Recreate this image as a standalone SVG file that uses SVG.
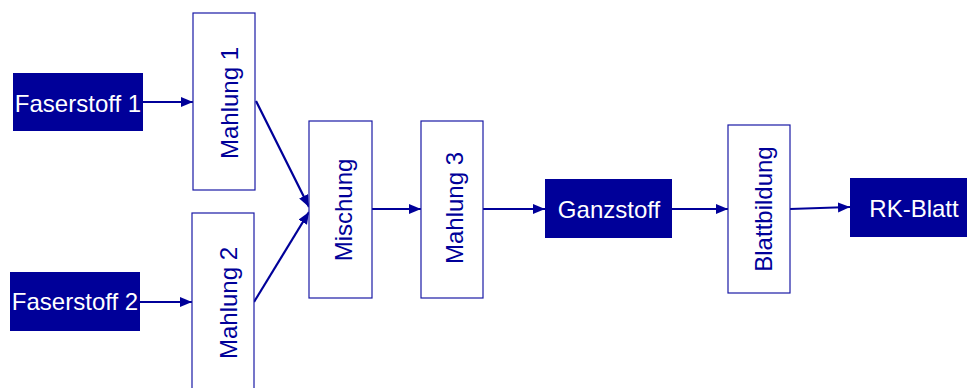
<svg xmlns="http://www.w3.org/2000/svg" width="967" height="388" viewBox="0 0 967 388">
<defs>
<marker id="ah" markerUnits="userSpaceOnUse" markerWidth="13" markerHeight="11" refX="12" refY="5" orient="auto">
<path d="M0,0 L12,5 L0,10 z" fill="#000099"/>
</marker>
<style>
.dark{fill:#000099;}
.light{fill:#ffffff;stroke:#1a1aa6;stroke-width:1.2;}
.tw{font-family:"Liberation Sans",Arial,sans-serif;font-size:24px;fill:#ffffff;text-anchor:middle;}
.tb{font-family:"Liberation Sans",Arial,sans-serif;font-size:24px;fill:#000099;text-anchor:middle;}
.con{stroke:#000099;stroke-width:2.2;fill:none;marker-end:url(#ah);}
</style>
</defs>
<rect width="967" height="388" fill="#ffffff"/>
<g id="connectors">
<line class="con" x1="143" y1="102" x2="193" y2="102"/>
<line class="con" x1="140" y1="302" x2="192" y2="302"/>
<line class="con" x1="256" y1="101" x2="309" y2="207"/>
<line class="con" x1="254" y1="302" x2="309" y2="212"/>
<line class="con" x1="372" y1="209" x2="421" y2="209"/>
<line class="con" x1="483" y1="209" x2="545" y2="209"/>
<line class="con" x1="672" y1="209" x2="728" y2="209"/>
<line class="con" x1="790" y1="209" x2="850" y2="207"/>
</g>
<g id="faserstoff1">
<rect class="dark" x="13" y="73" width="130" height="58"/>
<text class="tw" x="78" y="112">Faserstoff 1</text>
</g>
<g id="faserstoff2">
<rect class="dark" x="10" y="272" width="130" height="59"/>
<text class="tw" x="75" y="310">Faserstoff 2</text>
</g>
<g id="mahlung1">
<rect class="light" x="193" y="13" width="62" height="177"/>
<text class="tb" transform="translate(238,103) rotate(-90)">Mahlung 1</text>
</g>
<g id="mahlung2">
<rect class="light" x="192" y="213" width="62" height="185"/>
<text class="tb" transform="translate(237,303) rotate(-90)">Mahlung 2</text>
</g>
<g id="mischung">
<rect class="light" x="309" y="121" width="63" height="177"/>
<text class="tb" transform="translate(352,210) rotate(-90)">Mischung</text>
</g>
<g id="mahlung3">
<rect class="light" x="421" y="121" width="62" height="177"/>
<text class="tb" transform="translate(463,208) rotate(-90)">Mahlung 3</text>
</g>
<g id="ganzstoff">
<rect class="dark" x="545" y="179" width="127" height="59"/>
<text class="tw" x="609" y="218">Ganzstoff</text>
</g>
<g id="blattbildung">
<rect class="light" x="728" y="125" width="62" height="168"/>
<text class="tb" transform="translate(772,209) rotate(-90)">Blattbildung</text>
</g>
<g id="rkblatt">
<rect class="dark" x="850" y="178" width="117" height="59"/>
<text class="tw" x="914" y="217">RK-Blatt</text>
</g>
</svg>
